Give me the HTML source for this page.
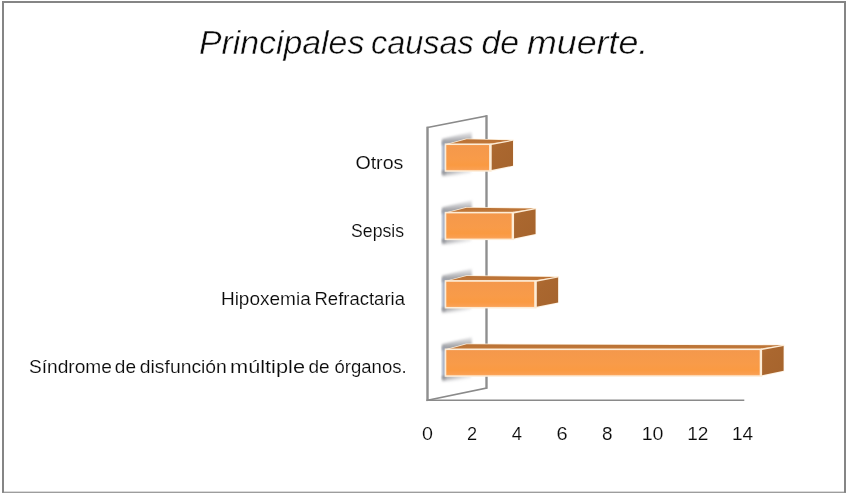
<!DOCTYPE html>
<html><head><meta charset="utf-8">
<style>
html,body{margin:0;padding:0;background:#fff;}
body{width:847px;height:494px;overflow:hidden;position:relative;font-family:"Liberation Sans",sans-serif;}
svg{position:absolute;left:0;top:0;display:block;}
text{font-family:"Liberation Sans",sans-serif;fill:#0a0a0a;}
.tx{opacity:0.999;}
</style></head><body>
<svg width="847" height="494" viewBox="0 0 847 494">
<defs>
<linearGradient id="frontg" x1="0" y1="0" x2="0" y2="1">
<stop offset="0" stop-color="#f4984c"/><stop offset="0.55" stop-color="#f89b49"/><stop offset="0.8" stop-color="#fa9a42"/><stop offset="0.93" stop-color="#fa9e4e"/><stop offset="1" stop-color="#fba65e"/>
</linearGradient>
<linearGradient id="sideg" x1="0" y1="0" x2="1" y2="1">
<stop offset="0" stop-color="#b16c32"/><stop offset="0.3" stop-color="#aa672f"/><stop offset="1" stop-color="#a6642d"/>
</linearGradient>
<linearGradient id="topg" x1="0" y1="0" x2="0" y2="1">
<stop offset="0" stop-color="#b87136"/><stop offset="1" stop-color="#c27838"/>
</linearGradient>
<linearGradient id="shTop" x1="0" y1="0" x2="0.12" y2="1">
<stop offset="0.02" stop-color="#a8a9ae" stop-opacity="0.05"/><stop offset="0.35" stop-color="#a8a9ae" stop-opacity="0.5"/><stop offset="0.75" stop-color="#96979c" stop-opacity="0.9"/><stop offset="1" stop-color="#909298" stop-opacity="0.95"/>
</linearGradient>
<linearGradient id="shLeft" x1="0" y1="0" x2="0" y2="1">
<stop offset="0" stop-color="#a0a3aa"/><stop offset="0.15" stop-color="#95a3ba"/><stop offset="0.85" stop-color="#95a3ba"/><stop offset="1" stop-color="#97999f"/>
</linearGradient>
<linearGradient id="shBot" x1="0" y1="0" x2="0.75" y2="0.75">
<stop offset="0" stop-color="#88898d" stop-opacity="1"/><stop offset="0.35" stop-color="#97989c" stop-opacity="0.75"/><stop offset="0.7" stop-color="#a8a8ac" stop-opacity="0.3"/><stop offset="1" stop-color="#b0b0b4" stop-opacity="0"/>
</linearGradient>
<filter id="blur" x="-30%" y="-30%" width="160%" height="160%"><feGaussianBlur stdDeviation="0.8"/></filter>
<filter id="blur2" x="-20%" y="-50%" width="140%" height="200%"><feGaussianBlur stdDeviation="1.1"/></filter>
</defs>
<rect x="0" y="0" width="847" height="494" fill="#fff"/>
<!-- outer frame -->
<g fill="#858585"><rect x="2" y="1" width="844" height="2"/><rect x="2" y="1" width="2" height="491.7"/><rect x="844" y="1" width="2" height="491.7"/><rect x="2" y="491.7" width="844" height="1.1"/></g>
<!-- wall -->
<polygon points="427.5,127.5 486.5,116 486.5,388.1 427.5,400.3" fill="#fff" stroke="#8a8a8a" stroke-width="1.6" stroke-linejoin="miter"/>
<line x1="427.5" y1="126.8" x2="427.5" y2="401" stroke="#8f8f8f" stroke-width="2.2"/>
<line x1="486.5" y1="115.3" x2="486.5" y2="388.8" stroke="#8f8f8f" stroke-width="2.1"/>
<line x1="426.4" y1="400.3" x2="744.3" y2="400.3" stroke="#8a8a8a" stroke-width="1.6"/>
<polygon filter="url(#blur)" fill="url(#shTop)" points="442.10,138.85 471.80,131.85 471.80,141.35 442.10,145.35"/>
<rect filter="url(#blur)" x="442.10" y="140.85" width="3.4" height="33.60" fill="url(#shLeft)" opacity="0.9"/>
<polygon filter="url(#blur)" fill="url(#shBot)" points="442.10,170.85 471.00,170.85 471.00,174.85 442.10,176.85"/>
<polygon fill="#fdecd6" points="444.70,144.45 466.10,138.55 513.60,139.65 513.60,141.15 491.50,144.95"/>
<polygon fill="url(#topg)" points="449.10,143.90 466.60,139.30 511.20,140.25 489.40,143.90"/>
<polygon fill="#fdecd6" fill-opacity="0.7" points="490.60,143.45 513.60,139.85 513.60,166.35 490.60,171.45"/>
<polygon fill="url(#sideg)" points="491.40,145.05 513.00,140.85 513.00,165.70 491.40,170.10"/>
<rect x="444.70" y="143.45" width="46.80" height="28.30" fill="#fdecd6"/>
<rect x="446.30" y="145.05" width="42.80" height="25.20" fill="url(#frontg)"/>
<polygon filter="url(#blur)" fill="url(#shTop)" points="442.10,207.20 471.80,200.20 471.80,209.70 442.10,213.70"/>
<rect filter="url(#blur)" x="442.10" y="209.20" width="3.4" height="33.60" fill="url(#shLeft)" opacity="0.9"/>
<polygon filter="url(#blur)" fill="url(#shBot)" points="442.10,239.20 471.00,239.20 471.00,243.20 442.10,245.20"/>
<polygon fill="#fdecd6" points="444.70,212.80 466.10,206.90 536.15,208.00 536.15,209.50 514.05,213.30"/>
<polygon fill="url(#topg)" points="449.10,212.25 466.60,207.65 533.75,208.60 511.95,212.25"/>
<polygon fill="#fdecd6" fill-opacity="0.7" points="513.15,211.80 536.15,208.20 536.15,234.70 513.15,239.80"/>
<polygon fill="url(#sideg)" points="513.95,213.40 535.55,209.20 535.55,234.05 513.95,238.45"/>
<rect x="444.70" y="211.80" width="69.35" height="28.30" fill="#fdecd6"/>
<rect x="446.30" y="213.40" width="65.35" height="25.20" fill="url(#frontg)"/>
<polygon filter="url(#blur)" fill="url(#shTop)" points="442.10,275.55 471.80,268.55 471.80,278.05 442.10,282.05"/>
<rect filter="url(#blur)" x="442.10" y="277.55" width="3.4" height="33.60" fill="url(#shLeft)" opacity="0.9"/>
<polygon filter="url(#blur)" fill="url(#shBot)" points="442.10,307.55 471.00,307.55 471.00,311.55 442.10,313.55"/>
<polygon fill="#fdecd6" points="444.70,281.15 466.10,275.25 558.70,276.35 558.70,277.85 536.60,281.65"/>
<polygon fill="url(#topg)" points="449.10,280.60 466.60,276.00 556.30,276.95 534.50,280.60"/>
<polygon fill="#fdecd6" fill-opacity="0.7" points="535.70,280.15 558.70,276.55 558.70,303.05 535.70,308.15"/>
<polygon fill="url(#sideg)" points="536.50,281.75 558.10,277.55 558.10,302.40 536.50,306.80"/>
<rect x="444.70" y="280.15" width="91.90" height="28.30" fill="#fdecd6"/>
<rect x="446.30" y="281.75" width="87.90" height="25.20" fill="url(#frontg)"/>
<polygon filter="url(#blur)" fill="url(#shTop)" points="442.10,343.90 471.80,336.90 471.80,346.40 442.10,350.40"/>
<rect filter="url(#blur)" x="442.10" y="345.90" width="3.4" height="33.60" fill="url(#shLeft)" opacity="0.9"/>
<polygon filter="url(#blur)" fill="url(#shBot)" points="442.10,375.90 471.00,375.90 471.00,379.90 442.10,381.90"/>
<polygon fill="#fdecd6" points="444.70,349.50 466.10,343.60 784.20,344.70 784.20,346.20 762.10,350.00"/>
<polygon fill="url(#topg)" points="449.10,348.95 466.60,344.35 781.80,345.30 760.00,348.95"/>
<polygon fill="#fdecd6" fill-opacity="0.7" points="761.20,348.50 784.20,344.90 784.20,371.40 761.20,376.50"/>
<polygon fill="url(#sideg)" points="762.00,350.10 783.60,345.90 783.60,370.75 762.00,375.15"/>
<rect x="444.70" y="348.50" width="317.40" height="28.30" fill="#fdecd6"/>
<rect x="446.30" y="350.10" width="313.40" height="25.20" fill="url(#frontg)"/>
<g class="tx">
<text x="198.91" y="53.5" font-size="33.9" font-style="italic" stroke="#fff" stroke-width="0.45" textLength="165.42" lengthAdjust="spacingAndGlyphs">Principales</text>
<text x="370.98" y="53.5" font-size="33.9" font-style="italic" stroke="#fff" stroke-width="0.45" textLength="102.84" lengthAdjust="spacingAndGlyphs">causas</text>
<text x="481.41" y="53.5" font-size="33.9" font-style="italic" stroke="#fff" stroke-width="0.45" textLength="37.61" lengthAdjust="spacingAndGlyphs">de</text>
<text x="526.94" y="53.5" font-size="33.9" font-style="italic" stroke="#fff" stroke-width="0.45" textLength="121.31" lengthAdjust="spacingAndGlyphs">muerte.</text>
<text x="355.41" y="169.0" font-size="18.9" stroke="#fff" stroke-width="0.15" textLength="47.95" lengthAdjust="spacingAndGlyphs">Otros</text>
<text x="351.09" y="237.1" font-size="18.9" stroke="#fff" stroke-width="0.15" textLength="53.06" lengthAdjust="spacingAndGlyphs">Sepsis</text>
<text x="220.91" y="304.9" font-size="18.9" stroke="#fff" stroke-width="0.15" textLength="89.81" lengthAdjust="spacingAndGlyphs">Hipoxemia</text>
<text x="314.53" y="304.9" font-size="18.9" stroke="#fff" stroke-width="0.15" textLength="90.41" lengthAdjust="spacingAndGlyphs">Refractaria</text>
<text x="28.97" y="372.5" font-size="18.9" stroke="#fff" stroke-width="0.15" textLength="82.99" lengthAdjust="spacingAndGlyphs">Síndrome</text>
<text x="114.89" y="372.5" font-size="18.9" stroke="#fff" stroke-width="0.15" textLength="21.17" lengthAdjust="spacingAndGlyphs">de</text>
<text x="139.82" y="372.5" font-size="18.9" stroke="#fff" stroke-width="0.15" textLength="87.04" lengthAdjust="spacingAndGlyphs">disfunción</text>
<text x="230.04" y="372.5" font-size="18.9" stroke="#fff" stroke-width="0.15" textLength="74.95" lengthAdjust="spacingAndGlyphs">múltiple</text>
<text x="308.51" y="372.5" font-size="18.9" stroke="#fff" stroke-width="0.15" textLength="21.13" lengthAdjust="spacingAndGlyphs">de</text>
<text x="334.54" y="372.5" font-size="18.9" stroke="#fff" stroke-width="0.15" textLength="72.06" lengthAdjust="spacingAndGlyphs">órganos.</text>
<text x="421.95" y="440.0" font-size="18.9" stroke="#fff" stroke-width="0.15" textLength="10.97" lengthAdjust="spacingAndGlyphs">0</text>
<text x="467.05" y="440.0" font-size="18.9" stroke="#fff" stroke-width="0.15" textLength="10.12" lengthAdjust="spacingAndGlyphs">2</text>
<text x="511.83" y="440.0" font-size="18.9" stroke="#fff" stroke-width="0.15" textLength="10.27" lengthAdjust="spacingAndGlyphs">4</text>
<text x="556.59" y="440.0" font-size="18.9" stroke="#fff" stroke-width="0.15" textLength="11.14" lengthAdjust="spacingAndGlyphs">6</text>
<text x="601.95" y="440.0" font-size="18.9" stroke="#fff" stroke-width="0.15" textLength="10.51" lengthAdjust="spacingAndGlyphs">8</text>
<text x="641.65" y="440.0" font-size="18.9" stroke="#fff" stroke-width="0.15" textLength="21.79" lengthAdjust="spacingAndGlyphs">10</text>
<text x="687.17" y="440.0" font-size="18.9" stroke="#fff" stroke-width="0.15" textLength="21.21" lengthAdjust="spacingAndGlyphs">12</text>
<text x="731.97" y="440.0" font-size="18.9" stroke="#fff" stroke-width="0.15" textLength="21.18" lengthAdjust="spacingAndGlyphs">14</text>
</g>
</svg>
</body></html>
